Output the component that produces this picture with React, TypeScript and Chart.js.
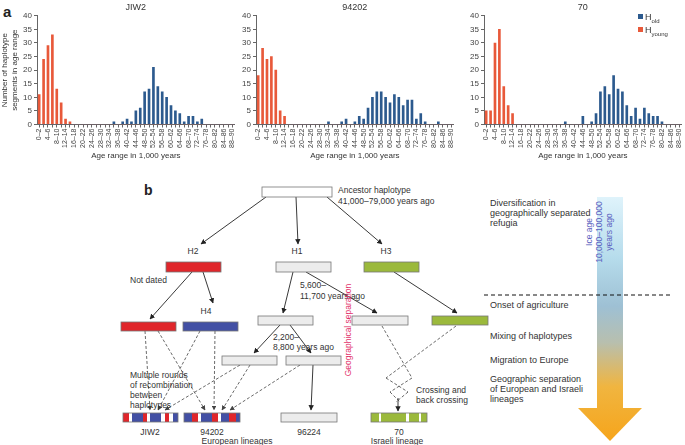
import React, { useEffect, useRef } from "react";
import { Chart, registerables } from "chart.js";

Chart.register(...registerables);

const FONT = "'Liberation Sans', Arial, Helvetica, sans-serif";

const ageBins = [
  "0–2", "2–4", "4–6", "6–8", "8–10", "10–12", "12–14", "14–16", "16–18", "18–20",
  "20–22", "22–24", "24–26", "26–28", "28–30", "30–32", "32–34", "34–36", "36–38", "38–40",
  "40–42", "42–44", "44–46", "46–48", "48–50", "50–52", "52–54", "54–56", "56–58", "58–60",
  "60–62", "62–64", "64–66", "66–68", "68–70", "70–72", "72–74", "74–76", "76–78", "78–80",
  "80–82", "82–84", "84–86", "86–88", "88–90",
];

const yTicks = [0, 5, 10, 15, 20, 25, 30, 35, 40];

const jiw2Young = [11, 24, 29, 33, 13, 8, 2, 1, 0, 0, 0, 0, 0, 0, 0, 0, 0, 0, 0, 0, 0, 0, 0, 0, 0, 0, 0, 0, 0, 0, 0, 0, 0, 0, 0, 0, 0, 0, 0, 0, 0, 0, 0, 0, 0];
const jiw2Old = [0, 0, 0, 0, 0, 0, 0, 0, 0, 0, 0, 0, 0, 0, 0, 0, 0, 1, 0, 1, 2, 1, 5, 6, 12, 13, 21, 14, 12, 10, 7, 5, 4, 1, 3, 3, 1, 2, 0, 0, 0, 0, 0, 0, 0];

const s94202Young = [18, 28, 24, 25, 20, 5, 3, 0, 0, 0, 0, 0, 0, 0, 0, 0, 0, 0, 0, 0, 0, 0, 0, 0, 0, 0, 0, 0, 0, 0, 0, 0, 0, 0, 0, 0, 0, 0, 0, 0, 0, 0, 0, 0, 0];
const s94202Old = [0, 0, 0, 0, 0, 0, 0, 0, 0, 0, 0, 0, 0, 0, 0, 0, 1, 0, 0, 1, 2, 0, 1, 3, 2, 6, 10, 12, 12, 10, 8, 11, 10, 7, 9, 9, 2, 4, 1, 0, 0, 1, 0, 0, 0];

const s70Young = [5, 5, 30, 35, 14, 7, 4, 0, 0, 0, 0, 0, 0, 0, 0, 0, 0, 0, 0, 0, 0, 0, 0, 0, 0, 0, 0, 0, 0, 0, 0, 0, 0, 0, 0, 0, 0, 0, 0, 0, 0, 0, 0, 0, 0];
const s70Old = [0, 0, 0, 0, 0, 0, 0, 0, 0, 0, 0, 0, 0, 0, 0, 0, 0, 0, 1, 0, 0, 0, 3, 0, 1, 4, 12, 14, 11, 18, 13, 12, 7, 3, 6, 2, 6, 4, 3, 3, 1, 0, 0, 0, 0];

const RED = "#e8593a";
const BLUE = "#2c5a8e";

const legendPlugin = {
  id: "subLegend",
  afterDraw(chart: any) {
    if (!chart.options.plugins.subLegend?.show) return;
    const ctx = chart.ctx;
    const x = 176;
    const items = [
      { c: BLUE, sub: "old", y: 14 },
      { c: RED, sub: "young", y: 27 },
    ];
    ctx.save();
    for (const it of items) {
      ctx.fillStyle = it.c;
      ctx.fillRect(x, it.y, 5, 5);
      ctx.fillStyle = "#333";
      ctx.textBaseline = "alphabetic";
      ctx.font = `9px ${FONT}`;
      ctx.fillText("H", x + 7, it.y + 6);
      const w = ctx.measureText("H").width;
      ctx.font = `6px ${FONT}`;
      ctx.fillText(it.sub, x + 7 + w, it.y + 8.5);
    }
    ctx.restore();
  },
};

function HistChart(props: {
  title: string;
  young: number[];
  old: number[];
  left: number;
  yWidth: number;
  yTitle: boolean;
  legend: boolean;
}) {
  const ref = useRef<HTMLCanvasElement>(null);
  const width = props.yWidth + 200 + 5;
  const height = 163;
  useEffect(() => {
    if (!ref.current) return;
    const chart = new Chart(ref.current, {
      type: "bar",
      data: {
        labels: ageBins,
        datasets: [
          { label: "Hold", data: props.old, backgroundColor: BLUE, barThickness: 2, grouped: false } as any,
          { label: "Hyoung", data: props.young, backgroundColor: RED, barThickness: 2, grouped: false } as any,
        ],
      },
      plugins: [legendPlugin],
      options: {
        responsive: false,
        animation: false,
        devicePixelRatio: 1,
        layout: { padding: { left: 0, right: 5, top: 0, bottom: 0 } },
        plugins: {
          legend: { display: false },
          tooltip: { enabled: false },
          subLegend: { show: props.legend },
          title: {
            display: true,
            text: props.title,
            fullSize: false,
            color: "#333",
            font: { size: 9, family: FONT, weight: "normal" },
            padding: { top: 2, bottom: 3 },
          },
        } as any,
        scales: {
          x: {
            type: "category",
            offset: true,
            grid: { display: true, drawOnChartArea: false, tickLength: 3, color: "#666", offset: false },
            border: { display: true, color: "#666" },
            ticks: {
              autoSkip: false,
              maxRotation: 90,
              minRotation: 90,
              padding: 1,
              color: "#444",
              font: { size: 7, family: FONT },
              callback: (_v: any, i: number) => (i % 2 === 0 ? ageBins[i] : ""),
            },
            title: {
              display: true,
              text: "Age range in 1,000 years",
              color: "#333",
              font: { size: 8, family: FONT },
              padding: { top: 0, bottom: 2 },
            },
            afterFit: (s: any) => {
              s.height = 38.5;
            },
          },
          y: {
            min: 0,
            max: 40,
            afterBuildTicks: (s: any) => {
              s.ticks = yTicks.map((v) => ({ value: v }));
            },
            grid: { display: true, drawOnChartArea: false, tickLength: 3, color: "#666" },
            border: { display: true, color: "#666" },
            ticks: { color: "#444", padding: 2, font: { size: 8, family: FONT } },
            title: {
              display: props.yTitle,
              text: ["Number of haplotype", "segments in age range"],
              color: "#333",
              font: { size: 8, family: FONT },
              padding: { top: 0, bottom: 1 },
            },
            afterFit: (s: any) => {
              s.width = props.yWidth;
            },
          },
        },
      } as any,
    });
    return () => chart.destroy();
  }, []);
  return (
    <canvas
      ref={ref}
      width={width}
      height={height}
      style={{ position: "absolute", left: props.left, top: 0, width, height }}
    />
  );
}

function Box(p: { x: number; y: number; w: number; h: number; fill: string }) {
  return <rect x={p.x} y={p.y} width={p.w} height={p.h} fill={p.fill} stroke="#777" strokeWidth={0.8} />;
}

function Striped(p: { x: number; y: number; w: number; h: number; base: string; segs: [number, number, string][] }) {
  return (
    <g>
      <rect x={p.x} y={p.y} width={p.w} height={p.h} fill={p.base} />
      {p.segs.map((s, i) => (
        <rect key={i} x={p.x + s[0]} y={p.y} width={s[1] - s[0]} height={p.h} fill={s[2]} />
      ))}
      <rect x={p.x} y={p.y} width={p.w} height={p.h} fill="none" stroke="#777" strokeWidth={0.8} />
    </g>
  );
}

const HRED = "#e0262b";
const HBLUE = "#4350a4";
const HGREEN = "#9bb93c";
const HGRAY = "#ececec";

function Diagram() {
  const t = { fontFamily: FONT, fontSize: 8.5, fill: "#333" } as any;
  const r = { fontFamily: FONT, fontSize: 9, fill: "#333" } as any;
  const arrows: [number, number, number, number][] = [
    [266, 197, 201, 244],
    [296, 197, 298, 244],
    [327, 197, 382, 244],
    [192, 272, 150, 319],
    [203, 272, 213, 303],
    [293, 272, 283, 313],
    [306, 272, 377, 313],
    [394, 272, 457, 313],
    [280, 325, 254, 353],
    [290, 325, 311, 353],
    [313, 365, 311, 410],
    [398, 398, 398, 411],
  ];
  const dashed: [number, number, number, number][] = [
    [145, 331, 150, 410],
    [158, 331, 205, 410],
    [200, 331, 158, 410],
    [215, 331, 214, 410],
    [240, 365, 165, 410],
    [250, 365, 222, 410],
    [300, 365, 230, 410],
  ];
  const cross: [number, number, number, number][] = [
    [382, 326, 412, 378],
    [456, 326, 386, 378],
    [386, 378, 408, 392],
    [412, 378, 390, 392],
    [390, 392, 400, 402],
    [408, 392, 396, 402],
  ];
  return (
    <svg width={685} height={445} style={{ position: "absolute", left: 0, top: 0 }}>
      <defs>
        <marker id="ah" viewBox="0 0 10 10" refX="9" refY="5" markerWidth="6" markerHeight="6" orient="auto">
          <path d="M0,0 L10,5 L0,10 z" fill="#222" />
        </marker>
        <marker id="ahd" viewBox="0 0 10 10" refX="9" refY="5" markerWidth="6" markerHeight="6" orient="auto">
          <path d="M0,0 L10,5 L0,10 z" fill="#444" />
        </marker>
        <linearGradient id="tg" gradientUnits="userSpaceOnUse" x1="0" y1="197" x2="0" y2="440">
          <stop offset="0" stopColor="#dff3fb" />
          <stop offset="0.25" stopColor="#b6dcec" />
          <stop offset="0.45" stopColor="#9ec0d4" />
          <stop offset="0.6" stopColor="#b8bfae" />
          <stop offset="0.78" stopColor="#f0b540" />
          <stop offset="1" stopColor="#f6a51c" />
        </linearGradient>
      </defs>

      <text x={3} y={17} fontFamily={FONT} fontSize={15} fontWeight="bold" fill="#222">a</text>
      <text x={144} y={195} fontFamily={FONT} fontSize={14} fontWeight="bold" fill="#222">b</text>

      {/* time arrow */}
      <rect x={597} y={197} width={26} height={211} fill="url(#tg)" />
      <polygon points="578,408 642,408 610,441" fill="url(#tg)" />
      <g fill="#5a5fc0" fontFamily={FONT} fontSize={8.5}>
        <text transform="translate(592,232) rotate(-90)" textAnchor="middle">Ice age</text>
        <text transform="translate(602,232) rotate(-90)" textAnchor="middle">10,000–100,000</text>
        <text transform="translate(612,232) rotate(-90)" textAnchor="middle">years ago</text>
      </g>
      <line x1={484} y1={295} x2={672} y2={295} stroke="#111" strokeWidth={1} strokeDasharray="4 3" />

      <text {...r} x={490} y={206}>Diversification in</text>
      <text {...r} x={490} y={216}>geographically separated</text>
      <text {...r} x={490} y={226}>refugia</text>
      <text {...r} x={490} y={308}>Onset of agriculture</text>
      <text {...r} x={490} y={339}>Mixing of haplotypes</text>
      <text {...r} x={490} y={363}>Migration to Europe</text>
      <text {...r} x={490} y={382}>Geographic separation</text>
      <text {...r} x={490} y={392}>of European and Israeli</text>
      <text {...r} x={490} y={402}>lineages</text>

      {/* arrows */}
      {arrows.map((a, i) => (
        <line key={"a" + i} x1={a[0]} y1={a[1]} x2={a[2]} y2={a[3]} stroke="#222" strokeWidth={0.9} markerEnd="url(#ah)" />
      ))}
      {dashed.map((a, i) => (
        <line key={"d" + i} x1={a[0]} y1={a[1]} x2={a[2]} y2={a[3]} stroke="#444" strokeWidth={0.8} strokeDasharray="3 2" markerEnd="url(#ahd)" />
      ))}
      {cross.map((a, i) => (
        <line key={"c" + i} x1={a[0]} y1={a[1]} x2={a[2]} y2={a[3]} stroke="#444" strokeWidth={0.8} strokeDasharray="3 2" />
      ))}

      {/* boxes */}
      <Box x={262} y={187} w={70} h={10} fill="#fff" />
      <Box x={166} y={262} w={55} h={10} fill={HRED} />
      <Box x={276} y={262} w={55} h={10} fill={HGRAY} />
      <Box x={364} y={262} w={55} h={10} fill={HGREEN} />
      <Box x={121} y={322} w={55} h={9} fill={HRED} />
      <Box x={183} y={322} w={55} h={9} fill={HBLUE} />
      <Box x={258} y={316} w={55} h={9} fill={HGRAY} />
      <Box x={352} y={316} w={56} h={9} fill={HGRAY} />
      <Box x={432} y={316} w={56} h={9} fill={HGREEN} />
      <Box x={222} y={356} w={55} h={9} fill={HGRAY} />
      <Box x={286} y={356} w={55} h={9} fill={HGRAY} />
      <Striped x={123} y={413} w={55} h={9} base={HBLUE} segs={[[0, 6, HRED], [6, 9, "#fff"], [20, 24, HRED], [24, 27, "#fff"], [38, 42, "#fff"], [42, 46, HRED], [46, 50, "#fff"]]} />
      <Striped x={184} y={413} w={56} h={9} base={HBLUE} segs={[[8, 14, HRED], [14, 17, "#fff"], [28, 34, HRED], [34, 37, "#fff"], [45, 52, HRED]]} />
      <Box x={281} y={413} w={56} h={9} fill={HGRAY} />
      <Striped x={371} y={413} w={56} h={9} base={HGREEN} segs={[[8, 10, "#fff"], [35, 38, "#fff"], [48, 50, "#fff"]]} />

      <text {...t} x={338} y={193}>Ancestor haplotype</text>
      <text {...t} x={338} y={204}>41,000–79,000 years ago</text>
      <text {...t} x={193} y={254} textAnchor="middle">H2</text>
      <text {...t} x={297} y={254} textAnchor="middle">H1</text>
      <text {...t} x={386} y={254} textAnchor="middle">H3</text>
      <text {...t} x={206} y={314} textAnchor="middle">H4</text>
      <text {...t} x={130} y={283}>Not dated</text>
      <text {...t} x={300} y={288}>5,600–</text>
      <text {...t} x={300} y={299}>11,700 years ago</text>
      <text {...t} x={273} y={340}>2,200–</text>
      <text {...t} x={273} y={350}>8,800 years ago</text>
      <text {...t} x={130} y={378}>Multiple rounds</text>
      <text {...t} x={130} y={388}>of recombination</text>
      <text {...t} x={130} y={398}>between</text>
      <text {...t} x={130} y={408}>haplotypes</text>
      <text {...t} x={416} y={393}>Crossing and</text>
      <text {...t} x={416} y={403}>back crossing</text>
      <text transform="translate(351,330) rotate(-90)" textAnchor="middle" fontFamily={FONT} fontSize={8.5} fill="#e2336b">Geographical separation</text>
      <text {...t} x={150} y={435} textAnchor="middle">JIW2</text>
      <text {...t} x={212} y={435} textAnchor="middle">94202</text>
      <text {...t} x={309} y={435} textAnchor="middle">96224</text>
      <text {...t} x={399} y={435} textAnchor="middle">70</text>
      <text {...t} x={237} y={444} textAnchor="middle">European lineages</text>
      <text {...t} x={397} y={444} textAnchor="middle">Israeli lineage</text>
    </svg>
  );
}

export default function App() {
  return (
    <div style={{ position: "absolute", left: 0, top: 0, width: 685, height: 445, overflow: "hidden", background: "#fff" }}>
      <Diagram />
      <HistChart title="JIW2" young={jiw2Young} old={jiw2Old} left={0} yWidth={37} yTitle={true} legend={false} />
      <HistChart title="94202" young={s94202Young} old={s94202Old} left={234} yWidth={22} yTitle={false} legend={false} />
      <HistChart title="70" young={s70Young} old={s70Old} left={462} yWidth={22} yTitle={false} legend={true} />
    </div>
  );
}
